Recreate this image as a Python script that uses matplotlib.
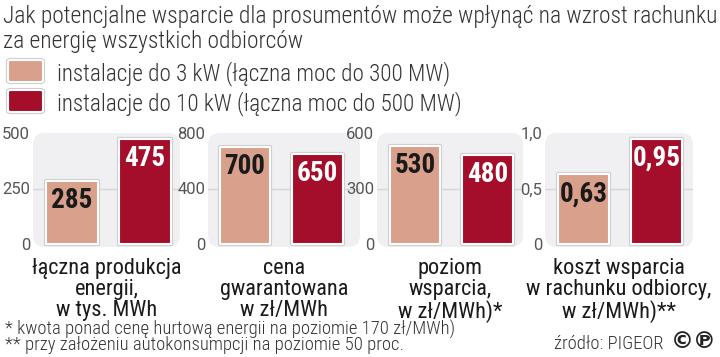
import matplotlib
matplotlib.use("Agg")
import matplotlib.pyplot as plt
import matplotlib.patheffects as pe
from matplotlib.patches import FancyBboxPatch

# dane
series_names = ["instalacje do 3 kW (łączna moc do 300 MW)",
                "instalacje do 10 kW (łączna moc do 500 MW)"]
categories = ["łączna produkcja\nenergii,\nw tys. MWh",
              "cena\ngwarantowana\nw zł/MWh",
              "poziom\nwsparcia,\nw zł/MWh)*",
              "koszt wsparcia\nw rachunku odbiorcy,\nw zł/MWh)**"]
small_inst = [285, 700, 530, 0.63]
big_inst = [475, 650, 480, 0.95]
value_labels = [["285", "475"], ["700", "650"], ["530", "480"], ["0,63", "0,95"]]
y_max = [500, 800, 600, 1.0]
y_ticks = [[0, 250, 500], [0, 400, 800], [0, 300, 600], [0, 0.5, 1.0]]
y_ticklabels = [["0", "250", "500"], ["0", "400", "800"], ["0", "300", "600"], ["0", "0,5", "1,0"]]
title = "Jak potencjalne wsparcie dla prosumentów może wpłynąć na wzrost rachunku\nza energię wszystkich odbiorców"
notes = ["* kwota ponad cenę hurtową energii na poziomie 170 zł/MWh)",
         "** przy założeniu autokonsumpcji na poziomie 50 proc."]
source = "źródło: PIGEOR"

col_light = "#d9a08c"
col_dark = "#a50e2b"
bg = "#f0f0f2"
cond = ["Roboto Condensed", "Liberation Sans Narrow", "DejaVu Sans"]

W, H = 720, 357
fig = plt.figure(figsize=(7.2, 3.57), dpi=100)

def fx(px):
    return px / W

def fy(py):
    return 1 - py / H

# panele: lewa krawędź i szerokość w pikselach, xlim
panels = [(33, 147, (-0.534, 1.48)), (208, 152, (-0.51, 1.586)),
          (377, 146, (-0.524, 1.49)), (545, 148, (-0.527, 1.5))]
top_px, bot_px = 133, 247

bar_fx = [pe.Stroke(linewidth=3, foreground="#cdcdcd"), pe.Normal()]

for i, (left, width, xl) in enumerate(panels):
    ax = fig.add_axes([fx(left), fy(bot_px), fx(width), (bot_px - top_px) / H])
    ax.set_xlim(*xl)
    ax.set_ylim(-y_max[i] * 3 / 111, y_max[i])
    for s in ax.spines.values():
        s.set_visible(False)
    ax.patch.set_visible(False)
    back = FancyBboxPatch((0, 0), 1, 1, boxstyle="round,pad=0,rounding_size=0.08",
                          mutation_aspect=width / (bot_px - top_px),
                          transform=ax.transAxes, facecolor=bg, edgecolor="none", zorder=0)
    ax.add_patch(back)
    ax.axhline(y_ticks[i][1], color="#d6d6d8", lw=1, zorder=1)
    vals = [small_inst[i], big_inst[i]]
    bars = ax.bar([0, 1], vals, width=0.7, color=[col_light, col_dark],
                  edgecolor="white", linewidth=1.5, zorder=3)
    for b in bars:
        b.set_path_effects(bar_fx)
        b.set_joinstyle("round")
    for j, v in enumerate(vals):
        ax.annotate(value_labels[i][j], (j, v), xytext=(0, -4.5), textcoords="offset points",
                    ha="center", va="top", fontsize=19.5, fontweight="bold", family=cond,
                    color="#1a1a1a" if j == 0 else "white", zorder=4)
    ax.set_xticks([])
    ax.set_yticks(y_ticks[i])
    ax.set_yticklabels(y_ticklabels[i], family=["Roboto", "DejaVu Sans"],
                       fontsize=12, color="#555555")
    ax.tick_params(axis="y", length=0, pad=2)
    fig.text(fx(left + width / 2), fy(258), categories[i], ha="center", va="top",
             fontsize=16, family=cond, color="#1a1a1a", linespacing=1.0)

fig.text(fx(3), fy(5), title, ha="left", va="top", fontsize=16.9, family=cond,
         fontweight="light", color="#333333", linespacing=1.1)

for k, (name, c) in enumerate(zip(series_names, [col_light, col_dark])):
    y0 = 60 + 30 * k
    sw = FancyBboxPatch((fx(8), fy(y0 + 22)), fx(35), 22 / H,
                        boxstyle="round,pad=0,rounding_size=0.004",
                        transform=fig.transFigure, facecolor=c, edgecolor="white",
                        linewidth=1.5, path_effects=bar_fx)
    fig.patches.append(sw)
    fig.text(fx(57), fy(80 + 30 * k), name, ha="left", va="baseline", fontsize=16.7,
             family=cond, fontweight="light", color="#333333")

fig.text(fx(5), fy(335), notes[0], ha="left", va="baseline", fontsize=13.4,
         family=cond, fontweight="light", color="#333333")
fig.text(fx(5), fy(350), notes[1], ha="left", va="baseline", fontsize=13.4,
         family=cond, fontweight="light", color="#333333")
fig.text(fx(663), fy(349), source, ha="right", va="baseline", fontsize=13.4,
         family=cond, fontweight="light", color="#333333")
fig.text(fx(671), fy(342), "©℗", ha="left", va="center", fontsize=16.5,
         fontweight="bold", family="DejaVu Sans", color="#222222")

fig.savefig("out.png", dpi=100)
